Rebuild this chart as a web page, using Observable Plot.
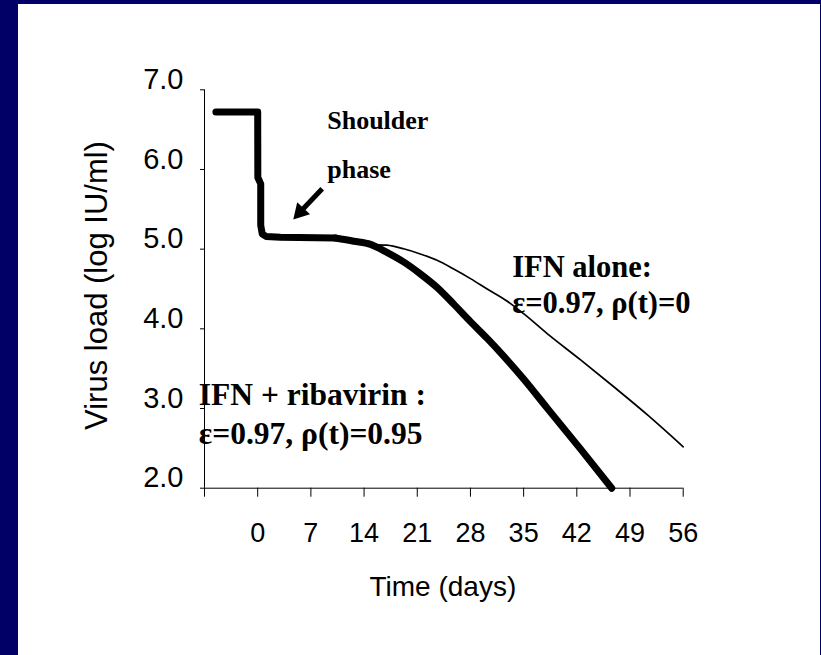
<!DOCTYPE html>
<html><head><meta charset="utf-8">
<script src="https://cdn.jsdelivr.net/npm/d3@7"></script>
<script src="https://cdn.jsdelivr.net/npm/@observablehq/plot@0.6"></script>
<style>
html,body{margin:0;padding:0;width:821px;height:655px;overflow:hidden;background:#000066;}
#panel{position:absolute;left:18px;top:4px;right:1px;bottom:0;background:#fff;}
#chart{position:absolute;left:0;top:0;}
</style></head><body>
<div id="panel"></div><div id="chart"></div>
<script>
// shared part of both simulations (pre-treatment + first phase + shoulder)
const earlyDays = [-5.5, 0, 0.02, 0.4, 0.4, 0.6, 1.1, 3, 10.2];
const earlyLoad = [6.72, 6.72, 5.9, 5.82, 5.3, 5.19, 5.16, 5.15, 5.14];
// shared start of the decline
const shoulderDays = [10.2, 12.65, 14.85];
const shoulderLoad = [5.14, 5.10, 5.06];
// IFN + ribavirin (thick)
const ribDays = [17, 19.2, 21.4, 23.6, 25.8, 28, 30.2, 32.4, 35, 38.1, 42.5, 46.6];
const ribLoad = [4.96, 4.84, 4.69, 4.52, 4.31, 4.09, 3.88, 3.655, 3.37, 3.005, 2.49, 2.0];
// IFN alone (thin)
const ifnDays = [17, 19.2, 21.4, 23.6, 25.8, 28, 30.2, 32.8, 35, 38.1, 42.5, 46.9, 51.3, 56];
const ifnLoad = [5.05, 5.005, 4.94, 4.86, 4.75, 4.63, 4.50, 4.35, 4.19, 3.94, 3.61, 3.27, 2.92, 2.52];

const xTicks = [-7, 0, 7, 14, 21, 28, 35, 42, 49, 56];
const yTicks = [2, 3, 4, 5, 6, 7];

const shoulderText = ["Shoulder", "phase"];
const shoulderX = [9.15, 9.15];
const shoulderY = [6.514, 5.899];
const ifnText = ["IFN alone:", "ε=0.97, ρ(t)=0"];
const ifnTextX = [33.49, 33.49];
const ifnTextY = [4.648, 4.196];
const ribText = ["IFN + ribavirin :", "ε=0.97, ρ(t)=0.95"];
const ribTextX = [-7.75, -7.75];
const ribTextY = [3.038, 2.557];
const arrowFrom = [8.49, 5.758];
const arrowHead = [5.59, 5.466];

const pts = (xs, ys) => xs.map((d, i) => ({day: d, load: ys[i]}));
const earlySeries = pts(earlyDays, earlyLoad);
const ribSeries = pts(shoulderDays, shoulderLoad).concat(pts(ribDays, ribLoad));
const ifnSeries = pts(shoulderDays, shoulderLoad).concat(pts(ifnDays, ifnLoad));

const sans = "'Liberation Sans', Arial, sans-serif";
const serif = "'Liberation Serif', 'Times New Roman', serif";
const lines = (t, xs, ys) => t.map((s, i) => ({text: s, x: xs[i], y: ys[i]}));

const chart = Plot.plot({
  width: 821, height: 655,
  marginLeft: 204, marginRight: 138.3, marginTop: 89.3, marginBottom: 167.3,
  style: {background: "transparent", overflow: "visible", color: "black"},
  x: {domain: [-7, 56]},
  y: {domain: [2, 7]},
  marks: [
    Plot.ruleX([-7], {y1: 2, y2: 7, stroke: "black"}),
    Plot.ruleY([2], {x1: -7, x2: 56, stroke: "black"}),
    Plot.axisX(xTicks, {tickSize: 9, tickPadding: 26, fontSize: 27, fontFamily: sans, label: null,
      tickFormat: d => d < 0 ? "" : String(d)}),
    Plot.axisY(yTicks, {tickSize: 4, fill: "none", label: null}),
    Plot.axisY(yTicks, {tickSize: 0, tickPadding: 21, dy: -10, fontSize: 29, fontFamily: sans, label: null,
      tickFormat: d3.format(".1f")}),
    Plot.text(["Virus load (log IU/ml)"], {frameAnchor: "left", textAnchor: "middle", rotate: -90, dx: -107, dy: -3.5,
      fontSize: 31, fontFamily: sans, fill: "black"}),
    Plot.text(["Time (days)"], {frameAnchor: "bottom", lineAnchor: "bottom", dx: -1, dy: 107.7,
      fontSize: 28, fontFamily: sans, fill: "black"}),
    Plot.line(ifnSeries, {x: "day", y: "load", curve: "monotone-x", stroke: "black", strokeWidth: 1.7}),
    Plot.line(earlySeries, {x: "day", y: "load", stroke: "black", strokeWidth: 7,
      strokeLinejoin: "round", strokeLinecap: "round"}),
    Plot.line(ribSeries, {x: "day", y: "load", curve: "monotone-x", stroke: "black", strokeWidth: 7,
      strokeLinejoin: "round", strokeLinecap: "round"}),
    Plot.link([0], {x1: () => arrowFrom[0], y1: () => arrowFrom[1], x2: () => arrowHead[0], y2: () => arrowHead[1],
      stroke: "black", strokeWidth: 5}),
    Plot.dot([0], {x: () => arrowHead[0], y: () => arrowHead[1], symbol: "triangle", r: 6.5, rotate: 223,
      fill: "black", stroke: "none"}),
    Plot.text(lines(shoulderText, shoulderX, shoulderY), {x: "x", y: "y", text: "text", textAnchor: "start",
      lineAnchor: "bottom", fontSize: 26, fontWeight: "bold", fontFamily: serif, fill: "black"}),
    Plot.text(lines(ifnText, ifnTextX, ifnTextY), {x: "x", y: "y", text: "text", textAnchor: "start",
      lineAnchor: "bottom", fontSize: 30.5, fontWeight: "bold", fontFamily: serif, fill: "black"}),
    Plot.text(lines(ribText, ribTextX, ribTextY), {x: "x", y: "y", text: "text", textAnchor: "start",
      lineAnchor: "bottom", fontSize: 31.5, fontWeight: "bold", fontFamily: serif, fill: "black"})
  ]
});
document.getElementById("chart").appendChild(chart);
</script>
</body></html>
